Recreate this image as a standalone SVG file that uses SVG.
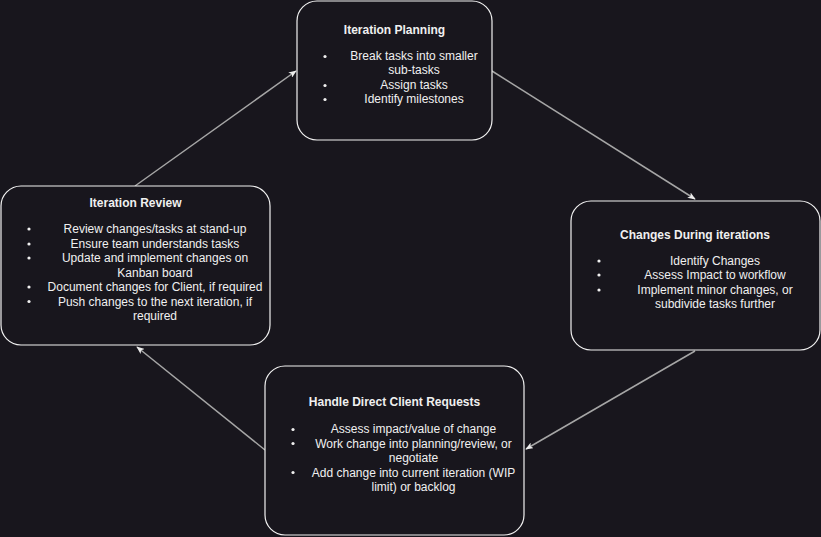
<svg xmlns="http://www.w3.org/2000/svg" width="821" height="537" viewBox="0 0 821 537">
<defs>
<style>
.box{fill:#18161d;stroke:#f2f2f2;stroke-width:1.2}
.t{font-family:"Liberation Sans",Arial,sans-serif;font-size:12px;fill:#f0f0f0;text-anchor:middle}
.b{font-weight:bold}
.dot{fill:#f0f0f0}
.edge{stroke:#a6a6a6;stroke-width:1.5;fill:none;marker-end:url(#arr)}
</style>
<marker id="arr" viewBox="0 0 10 8" refX="9" refY="4" markerWidth="8" markerHeight="6.4" markerUnits="userSpaceOnUse" orient="auto">
<path d="M0,0 L10,4 L0,8 L2.5,4 z" fill="#ececec"/>
</marker>
</defs>
<rect width="821" height="537" fill="#18161d"/>
<g id="connectors">
<line class="edge" x1="492" y1="71" x2="695" y2="199"/>
<line class="edge" x1="695" y1="351" x2="526" y2="449"/>
<line class="edge" x1="265" y1="450" x2="137" y2="347"/>
<line class="edge" x1="135" y1="186" x2="296" y2="71"/>
</g>
<g id="iteration-planning">
<rect class="box" x="297" y="1" width="195" height="139" rx="20"/>
<text class="t b" x="394.5" y="34">Iteration Planning</text>
<circle class="dot" cx="325" cy="56.5" r="1.6"/>
<circle class="dot" cx="325" cy="85.5" r="1.6"/>
<circle class="dot" cx="325" cy="99.5" r="1.6"/>
<text class="t" x="414" y="60">Break tasks into smaller</text>
<text class="t" x="414" y="74">sub-tasks</text>
<text class="t" x="414" y="89">Assign tasks</text>
<text class="t" x="414" y="103">Identify milestones</text>
</g>
<g id="changes-during-iterations">
<rect class="box" x="571" y="201" width="249" height="149" rx="20"/>
<text class="t b" x="695" y="239">Changes During iterations</text>
<circle class="dot" cx="599" cy="261" r="1.6"/>
<circle class="dot" cx="599" cy="275" r="1.6"/>
<circle class="dot" cx="599" cy="290" r="1.6"/>
<text class="t" x="715" y="265">Identify Changes</text>
<text class="t" x="715" y="279">Assess Impact to workflow</text>
<text class="t" x="715" y="294">Implement minor changes, or</text>
<text class="t" x="715" y="308">subdivide tasks further</text>
</g>
<g id="iteration-review">
<rect class="box" x="1" y="186" width="269" height="159" rx="20"/>
<text class="t b" x="135.5" y="207">Iteration Review</text>
<circle class="dot" cx="29" cy="229" r="1.6"/>
<circle class="dot" cx="29" cy="244" r="1.6"/>
<circle class="dot" cx="29" cy="258" r="1.6"/>
<circle class="dot" cx="29" cy="287" r="1.6"/>
<circle class="dot" cx="29" cy="301.5" r="1.6"/>
<text class="t" x="155" y="233">Review changes/tasks at stand-up</text>
<text class="t" x="155" y="248">Ensure team understands tasks</text>
<text class="t" x="155" y="262">Update and implement changes on</text>
<text class="t" x="155" y="276.5">Kanban board</text>
<text class="t" x="155" y="291">Document changes for Client, if required</text>
<text class="t" x="155" y="305.5">Push changes to the next iteration, if</text>
<text class="t" x="155" y="320">required</text>
</g>
<g id="handle-direct-client-requests">
<rect class="box" x="265" y="366" width="259" height="169" rx="20"/>
<text class="t b" x="394.5" y="406">Handle Direct Client Requests</text>
<circle class="dot" cx="293" cy="429.5" r="1.6"/>
<circle class="dot" cx="293" cy="443.5" r="1.6"/>
<circle class="dot" cx="293" cy="472.5" r="1.6"/>
<text class="t" x="413.5" y="433">Assess impact/value of change</text>
<text class="t" x="413.5" y="447.5">Work change into planning/review, or</text>
<text class="t" x="413.5" y="462">negotiate</text>
<text class="t" x="413.5" y="476.5">Add change into current iteration (WIP</text>
<text class="t" x="413.5" y="490.5">limit) or backlog</text>
</g>
</svg>
